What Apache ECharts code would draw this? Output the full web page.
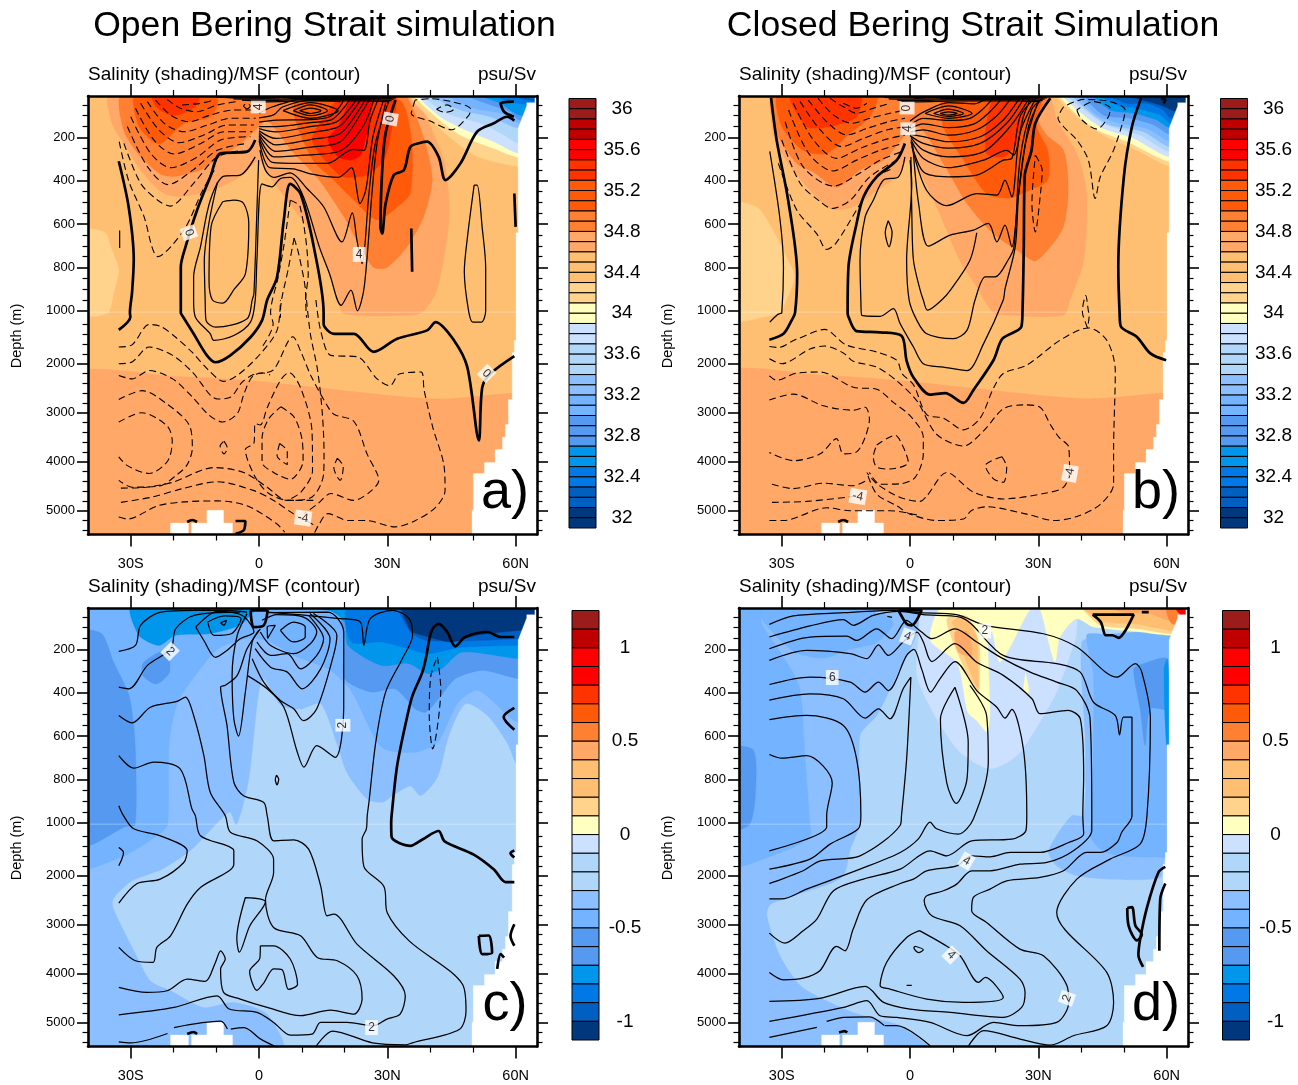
<!DOCTYPE html>
<html><head><meta charset="utf-8">
<style>html,body{margin:0;padding:0;background:#fff}#c{width:1298px;height:1085px}</style>
<script src="https://cdn.jsdelivr.net/npm/echarts@6/dist/echarts.min.js"></script>
</head><body><div id="c"></div>
<script>
// ---------- tick labels and scales ----------
const latMajor=[-30,0,30,60];
const latMinor=[-20,-10,10,20,40,50];
const latNames=['30S','0','30N','60N'];
const depthMajor=[200,400,600,800,1000,2000,3000,4000,5000];
const depthMinor=[50,100,150,250,300,350,450,500,550,650,700,750,850,900,950,1200,1400,1600,1800,2200,2400,2600,2800,3200,3400,3600,3800,4200,4400,4600,4800,5200,5400];
const salinityLabels=[32,32.4,32.8,33.2,33.6,34,34.4,34.8,35.2,35.6,36];
const anomalyLabels=[-1,-0.5,0,0.5,1];
const paletteNames=['#9c1c1c','#c00000','#ff0000','#ff3300','#ff5a0a','#ff7f33','#ffa868','#ffbf73','#ffd38c','#ffffbf','#cce0ff','#b0d6fa','#8cbfff','#73b3ff','#5599f0','#0096eb','#0078e6','#005fc0','#00377d'];
const salinityRuns=[2,2,2,2,3,2,2,3,2,2,2,3,2,2,3,2,2,2,2];
const anomalyRuns=[1,1,2,1,1,1,1,2,1,1,1,2,1,1,2,1,1,1,1];

// ---------- bottom and coast land mask (lat, depth) ----------
const landEast=[[70,0],[64.5,0],[64.5,40],[62.6,40],[62.6,55],[60.6,157],[60.6,640],[60.1,640],[60.1,1524],[59.7,1524],[59.7,1770],[59.2,1770],[59.2,2730],[58.3,2730],[58.3,3240],[57.6,3240],[57.6,3500],[56.9,3500],[56.9,3750],[55.2,3750],[55.2,4015],[52.7,4015],[52.7,4240],[50.1,4240],[50.1,4990],[49.8,4990],[49.8,5600],[70,5600]];
const landBottomA=[[-20.7,5600],[-20.7,5250],[-16.5,5250],[-16.5,5600]];
const landBottomB=[[-15.8,5600],[-15.8,5250],[-12.2,5250],[-12.2,4990],[-8.3,4990],[-8.3,5250],[-6.2,5250],[-6.2,5600]];

// ---------- panel a: salinity bands (value, outline) ----------
const aLevels=[34.7,34.7,34.2,34.9,34.9,35.1,35.1,35.35,35.35,35.55,34.2,34,33.85,33.55,33.3,33.1,32.85,32.6,32.4,32.2,32,32];
const aBands=[
[[-45,2260],[-19.2,2260],[-2.8,2340],[15.9,2510],[41.6,2720],[59.5,2600],[70,2600],[70,5600],[-45,5600]],
[[-34.8,0],[-34.4,135],[-31.6,228],[-27.7,350],[-23,450],[-19.2,474],[-13.7,458],[-9,428],[-4.4,382],[0,305],[1.9,366],[6.5,490],[11.2,612],[15.1,766],[18.2,920],[19.8,1040],[36.2,1060],[38.5,1000],[41.6,905],[44.3,612],[44.3,458],[43.2,305],[39.3,120],[35.4,0]],
[[-45,635],[-36.3,635],[-34.4,720],[-32.8,812],[-34,920],[-35.5,1040],[-45,1040]],
[[-31.9,0],[-31.6,170],[-27.7,290],[-23,370],[-19.7,380],[-13.7,350],[-9,290],[-4.4,230],[0,150],[1.9,120],[8,270],[14,395],[19.8,565],[23.7,705],[26.8,800],[29.9,800],[34.6,705],[38.5,565],[40.5,395],[38.9,228],[36.1,75],[33.7,0]],
[[-31.5,0],[-31,105],[-27.7,260],[-21.4,295],[-15.1,275],[-9.6,210],[-8,105],[-9.6,0]],
[[8,60],[12.4,300],[17.1,390],[22.2,490],[27.6,580],[33,510],[35.4,455],[35.7,220],[32.8,28],[14,0]],
[[-28.9,0],[-28.1,150],[-23.4,230],[-17.5,135],[-11.4,105],[-9.6,30],[-12,0]],
[[14.7,120],[12.4,210],[14.7,290],[19.4,380],[25,375],[29.2,305],[30.8,182],[31.7,0],[20,0]],
[[-25,0],[-24,60],[-20,100],[-15,60],[-14,0]],
[[18.5,150],[16.1,210],[18.5,290],[21.6,305],[24,275],[26.3,28],[22.3,0]],
[[35.4,0],[39.5,105],[44.9,205],[51.1,290],[60.8,335],[70,335],[70,0]],
[[36.6,0],[41.7,112],[47.1,190],[54.1,246],[60.8,293],[70,293],[70,0]],
[[37.4,0],[42.4,105],[48.3,166],[54.9,220],[60.8,274],[70,274],[70,0]],
[[38.5,0],[44,89],[51.8,135],[57.3,189],[60.8,228],[70,228],[70,0]],
[[40.1,0],[47.1,74],[54.1,105],[60.8,159],[70,159],[70,0]],
[[44,0],[50.2,66],[56.5,89],[60.8,135],[70,135],[70,0]],
[[47.9,0],[54.1,50],[58.8,82],[60.8,120],[70,120],[70,0]],
[[51,0],[56.5,43],[60.8,97],[70,97],[70,0]],
[[54.1,0],[58.8,35],[62.7,50],[70,50],[70,0]],
[[58,0],[65,35],[70,35],[70,0]],
[[62,0],[65,15],[70,15],[70,0]],
[[60,0],[62,8],[70,8],[70,0]]
];
const aThick=[
[[-32.8,310],[-30.5,520],[-29.3,765],[-29.7,915],[-30.2,1030],[-30.1,1090],[-32.8,1310]],
[[-0.9,212],[-2.8,266],[-9,274],[-11.4,382],[-14.5,536],[-17.2,705],[-18.3,798],[-18.3,1029],[-18,1065],[-15.3,1390],[-12.2,1830],[-10.2,1970],[-6.7,1830],[-2,1460],[0.7,1140],[1.9,950],[4.2,845],[5.8,580],[7.3,415],[9.7,460],[12.8,705],[15.1,1030],[15.1,1190],[17.5,1390],[22.2,1390],[26.8,1760],[32.3,1490],[39.3,1320],[41.3,1165],[45.6,1525],[48.7,2070],[51.4,3565],[52.2,2480],[54.1,2205],[59.7,1845]],
[[31.9,28],[29.6,180],[28.8,350],[28.4,613],[28.8,644],[29.6,505],[31.5,374],[33.9,350],[35.4,243],[37.8,225],[39.3,220],[42,290],[43.6,397],[47.1,320],[51,174],[54.9,135],[58,105],[59.7,123]],
[[59.6,35],[56.5,43],[57.3,82],[59.6,105]],
[[59.7,459],[60,613]],
[[35.6,620],[35.8,820]],
[[-16.8,5230],[-15.6,5190],[-14.5,5230]],
[[-5.5,5210],[-3.2,5210],[-3.6,5400],[-5.5,5470]]
];
const aThin=[
[[-32.6,630],[-32.6,710]],
[[-0.9,290],[-4.4,374],[-8.2,379],[-11.4,490],[-13.7,705],[-15.3,844],[-15.3,952],[-14.9,1090],[-11.4,1390],[-10.6,1525],[-5.9,1425],[-2,1165],[-0.9,950],[-0.5,767],[0.7,415],[3,428],[5,390],[7.3,385],[10.4,475],[14.1,705],[16.5,830],[19.2,975],[21.5,905],[23,1000],[24.6,890],[26.4,459],[27.6,228],[29.6,43]],
[[-9.7,405],[-11.6,582],[-12.8,767],[-12.6,952],[-12.4,1140],[-10.1,1255],[-2.8,1115],[-1.6,950],[-1.2,920],[-0.5,536],[-0.1,305]],
[[-8.5,497],[-11.2,610],[-11.7,860],[-10.9,950],[-8.5,965],[-5.8,900],[-3.2,830],[-2.4,595],[-3.6,505],[-5.9,490],[-8.5,497]],
[[0.2,259],[1.5,351],[3.4,385],[7.3,364],[11.2,436],[15.1,520],[19.4,682],[21.8,548],[22.9,675],[24.1,782],[25.7,459],[27.2,228],[30.3,35]],
[[0,215],[2.5,340],[8,345],[12.4,370],[18.5,385],[21.6,340],[23.6,505],[25,440],[26.6,200],[29,35]],
[[0,205],[3.1,315],[9.5,320],[16,320],[22,255],[24.5,260],[26,120],[28,18]],
[[0,195],[3.5,290],[10.6,282],[19,262],[24.3,150],[27,18]],
[[0,186],[3.9,265],[11.7,246],[19,220],[24,85],[26,18]],
[[0,178],[3.9,235],[12,210],[19,182],[23.5,70],[25,18]],
[[0,170],[3.9,205],[12,178],[18.7,150],[22.6,60],[24,18]],
[[0,160],[3.9,175],[12,150],[18,130],[21.5,60],[23,18]],
[[0,150],[3.9,150],[12,132],[17,118],[20,60],[21.5,15]],
[[0,130],[4,120],[12,118],[16.5,105],[19,55],[20,15]],
[[0,110],[3.5,95],[5.5,60],[12,28],[19,35]],
[[0,90],[3,60],[12,15],[18,18]],
[[5.6,77],[12,40],[18.5,77],[12,112],[5.6,77]],
[[8,77],[12,50],[16,77],[12,100],[8,77]],
[[9.5,77],[12,65],[14.5,77],[12,90],[9.5,77]],
[[0,20],[12,12],[24,12],[31,20]],
[[0,14],[12,10],[24,10],[32,14]],
[[-10,14],[0,18],[6,14]],
[[-8,16],[0,18],[12,14],[24,14],[32,18]],
[[-6,22],[0,24],[12,20],[24,20],[31.5,24]],
[[-4,28],[0,30],[12,26],[24,26],[31,30]],
[[-2,35],[1,36],[12,32],[24,32],[30.5,36]],
[[50.3,420],[48.8,650],[48,820],[49,1000],[50,1165],[52,1165],[53,1000],[53,800],[52.2,620],[51,420],[50.3,420]]
];
const aDash=[
[[-32.7,220],[-30.5,400],[-27,560],[-23.6,750],[-17.5,625],[-13.2,445],[-10,335]],
[[-31.6,228],[-27.7,412],[-23.7,490],[-20.8,517],[-15.3,412],[-9.8,290],[-3.9,260]],
[[-30.8,150],[-26.1,335],[-21.3,418],[-15.4,350],[-9.8,260],[-2.8,228]],
[[-30,105],[-25.3,275],[-20.6,340],[-14.4,290],[-9,212],[-2,197]],
[[-28.9,66],[-24.6,212],[-19.9,277],[-13.6,228],[-8.2,174],[-1.6,174]],
[[-27.7,43],[-23.4,166],[-18.7,225],[-13.0,190],[-7.4,143],[-1.2,143]],
[[-26.1,35],[-22.2,135],[-17.5,174],[-12.0,143],[-6.7,112],[-0.8,112]],
[[-24.2,28],[-20.7,97],[-16.4,128],[-11.4,97],[-5.9,74],[-0.5,74]],
[[-21.5,25],[-18.4,66],[-14.5,82],[-9.8,51],[-5.1,35]],
[[-18,51],[-13.7,43],[-10.5,28]],
[[-2.8,70],[-3.6,55],[-3,45],[-2,55],[-2.8,70]],
[[36.5,28],[35.6,90],[40,125],[45,165],[49,100],[49.5,70],[45,35],[40,22],[36.5,28]],
[[41.5,70],[43.5,85],[45.5,70],[44,50],[41.5,70]],
[[-32.8,1660],[-29.7,1615],[-25.7,1200],[-23,1240],[-19.5,1460],[-15.6,1770],[-12,2115],[-8.3,2360],[-4.8,2220],[0.3,1800],[4.2,1320],[5,950]],
[[-32.8,2000],[-29.7,1965],[-25.7,1660],[-20.2,1830],[-15.6,2170],[-9.7,2720],[-6.6,2680],[-4,2380],[-1.3,2220],[1,2190],[2.6,2230]],
[[-32.8,2240],[-29.7,2310],[-25.7,2140],[-20.2,2310],[-15.6,2680],[-11.7,3050],[-8.5,3190],[-5.1,3020],[-3.5,2610],[-1.3,2240],[3.3,2130],[7.9,1450],[9.8,1760],[12.1,2240],[15.9,2850],[17.5,3030],[22.2,3180],[25.3,3850],[27.6,4240],[28,4380],[26,4610],[22.2,4790],[16.8,4650],[13.7,4860],[10.6,5060]],
[[-32.8,2730],[-27.3,2550],[-21.4,2830],[-16.4,3240],[-15.6,3720],[-16.8,4060],[-19.1,4260],[-23.4,4500],[-29.7,4520],[-32.8,4380]],
[[-32.8,3190],[-27.4,3000],[-21.5,3270],[-20.3,3580],[-21.4,3990],[-25.7,4240],[-30.8,4080],[-32.8,3900]],
[[-8.2,3580],[-7.4,3720],[-8.2,3840],[-9.1,3680],[-8.2,3580]],
[[-32.3,4540],[-26.4,4520],[-20.2,4420],[-10.5,4120],[-3.6,4220],[1.9,4520],[6.5,4790],[12.7,4790]],
[[-32.3,4830],[-24.9,4720],[-17.9,4550],[-9.8,4410],[-1.2,4590],[3.4,4790],[8,5060],[13.7,5330]],
[[-32.8,5130],[-30.8,5170],[-23.7,4900],[-17.5,4820],[-9.8,4800],[-2.8,4900],[4.2,5270],[6,5440]],
[[13.3,950],[14.4,1320],[16.8,1830],[23,1860],[27.6,2310],[30.6,2450],[32.8,2210],[37.9,2170],[38.6,2540],[40.6,3290],[43.3,4110],[43.5,4590],[41.3,4930],[36.6,5200],[31.9,5330],[24.9,5200],[20.9,5200],[16.1,5060],[13.7,5330],[12.9,5470]],
[[11.1,950],[12,1390],[13.7,2140],[14.8,3020],[15.2,3840],[15.1,4250],[12.4,4720],[7,4790],[2.3,4650],[-0.9,4310],[-3.2,3750],[-1.2,3620],[-0.9,3220],[0.3,3250],[1.9,2900],[5,2340],[7,2180],[9.8,2510],[12.4,3400],[12.5,4180],[9.8,4620],[6.6,4790]],
[[5.1,2880],[8.2,3090],[10.1,3570],[10.3,3980],[7.3,4360],[3.4,4220],[0.7,4010],[0.7,3520],[2.3,3120],[5.1,2880]],
[[4.8,3630],[6.6,3790],[6.6,4060],[4.2,3880],[4.8,3630]],
[[18.3,3930],[19.7,4100],[19,4380],[17.5,4130],[18.3,3930]],
[[7.3,490],[9.6,520],[11.5,830],[10.9,950],[11.1,1100]],
[[8.2,665],[9.3,740],[10.9,930],[10.9,950]],
[[7.3,490],[5.8,700],[4.4,850],[2.7,1030],[3.3,1190],[0.7,1660]],
[[8.2,665],[6.9,800],[5,1020],[5,1100]]
];
const aLabels=[['0',-16.4,640,-70],['4',-0.2,60,90],['0',30.7,115,80],['4',23.4,740,0],['0',53.2,2200,-45],['-4',10.3,5150,-8]];

// ---------- panel b ----------
const bLevels=[34.7,34.2,34.7,34.9,35.1,35.35,35.1,35.35,34.2,34,33.85,33.55,33.3,33.1,32.85,32.6,32.4,32.2,32];
const bBands=[
[[-45,2240],[-19.5,2240],[-3,2340],[15.6,2510],[41.3,2715],[59.2,2600],[70,2600],[70,5600],[-45,5600]],
[[-45,505],[-36,520],[-32,630],[-29,750],[-27,840],[-28.9,950],[-30.4,1030],[-32,1065],[-45,1140]],
[[-32.8,0],[-32.8,15],[-31.9,195],[-28,335],[-23.4,443],[-18.7,530],[-13.3,520],[-7.8,445],[-3.1,382],[-0.8,305],[0.8,305],[6.2,520],[11.7,770],[15.6,890],[19.5,1030],[22.6,1065],[35.9,1065],[37.4,950],[40.6,770],[41.3,460],[39,275],[34.3,120],[32,0]],
[[-31.9,0],[-31.1,182],[-26.5,320],[-22.6,360],[-17.2,430],[-11.7,350],[-6.2,305],[1.6,150],[7.8,320],[13.3,505],[19.5,645],[25.7,730],[29.3,770],[32.8,705],[35.9,610],[37,440],[35.9,260],[32,190],[30,120],[32.2,0]],
[[-30.8,0],[-30,150],[-25,260],[-19.5,275],[-14,180],[-9.4,105],[-7.8,0]],
[[-28,0],[-24.2,150],[-18.7,150],[-12.5,105],[-11.7,0]],
[[7.8,150],[12.5,305],[17.9,460],[23.4,480],[28,443],[32.2,397],[32.2,260],[29.6,150],[30.4,0],[7.8,0]],
[[17.9,135],[17.9,275],[21.8,290],[25,228],[26.5,120],[27.3,0],[20,0]],
[[34.3,0],[39,105],[45.2,190],[53,259],[61,335],[70,335],[70,0]],
[[35.1,0],[39.1,97],[43.7,166],[50.8,220],[60.6,312],[70,312],[70,0]],
[[35.9,0],[40.6,97],[45.2,159],[52.3,205],[60.6,290],[70,290],[70,0]],
[[37,0],[41.3,82],[46,143],[53.8,190],[60.6,266],[70,266],[70,0]],
[[38.2,0],[42.9,97],[46.8,143],[54.6,174],[60.6,243],[70,243],[70,0]],
[[39.8,0],[43.7,97],[49.1,135],[55.4,159],[61,220],[70,220],[70,0]],
[[41,0],[45.2,97],[51.5,112],[57,143],[61,189],[70,189],[70,0]],
[[43,0],[46.8,74],[52.3,89],[57.7,120],[61,159],[70,159],[70,0]],
[[44.5,0],[48.4,51],[53,66],[58.5,97],[61,135],[70,135],[70,0]],
[[46,0],[50.7,43],[55.4,43],[59.2,74],[61,112],[70,112],[70,0]],
[[48.4,0],[53.8,25],[58.5,51],[62.4,82],[70,82],[70,0]]
];
const bThick=[
[[-32.5,17],[-31.2,212],[-28.5,490],[-26.4,830],[-26.9,1030],[-27.7,1140],[-29.6,1390],[-32.9,1510]],
[[-1.2,228],[-3.1,305],[-7.8,382],[-10.9,475],[-12.5,597],[-14.4,798],[-14.6,1030],[-14.4,1090],[-12.5,1335],[-7.0,1360],[-2,1430],[-0.8,1940],[0.8,2280],[4.7,2630],[8.2,2600],[12.5,2800],[14.8,2540],[19.5,1930],[21.6,1490],[26,1250],[26.3,1000],[26.6,700],[26.8,380],[28.4,260],[29.3,135],[32.8,20]],
[[54,20],[51.9,150],[50,382],[48.7,798],[49,1030],[49.3,1240],[53,1450],[56.2,1790],[59.9,1930]],
[[58.7,20],[59.7,28],[59.3,43]],
[[-16.8,5230],[-15.6,5190],[-14.5,5230]]
];
const bThin=[
[[-32.8,265],[-30.4,580],[-29.6,800],[-30,1030],[-30.4,1040],[-31.1,1060],[-32.8,1165]],
[[-1.2,290],[-2.7,382],[-6.2,397],[-8.6,490],[-10.5,567],[-11.7,767],[-11.5,952],[-11.3,1065],[-7,1080],[-3.9,990],[-2.3,1190],[0.8,1660],[3.1,2000],[7.8,2070],[13.3,2140],[17.2,1590],[21.8,950],[22.2,900],[24.6,705],[25.4,459],[27,228],[30,30]],
[[0,305],[0.4,413],[-0.8,767],[-0.2,952],[1.6,1140],[3.9,1390],[10.1,1490],[13.3,1320],[15.2,950],[17.6,844],[19.9,844],[22.9,767],[24.3,705],[25.7,305],[28.4,74],[31,20]],
[[0.2,290],[0.4,536],[0.8,767],[2.3,900],[3.1,950],[4.1,997],[7.4,950],[9.4,906],[14,767],[15.6,640]],
[[0.6,228],[2,505],[4.3,702],[9.4,651],[14.8,628],[18.3,597],[20.3,682],[22.2,605],[23.8,705],[25.4,459],[27.7,151],[30.4,25]],
[[0.4,240],[3.9,445],[8.6,515],[15.6,460],[20.3,466],[22.2,397],[23.8,475],[25.7,182],[29.3,25]],
[[0.2,220],[3.1,359],[9,382],[15.6,374],[21.8,305],[23.8,297],[25.7,105],[28.9,25]],
[[0.2,210],[3.1,297],[9,340],[17.2,305],[22.6,260],[24.2,282],[26.5,105],[28.1,25]],
[[0.2,200],[3.1,259],[9,290],[17.2,266],[23.4,150],[27.7,25]],
[[0,192],[3.1,228],[9,250],[16.4,228],[22.6,135],[26.5,25]],
[[0,185],[3.1,197],[9,220],[16.4,197],[21.8,120],[25.4,25]],
[[0,175],[3.1,165],[9,190],[15.6,165],[20.3,100],[23.4,25]],
[[0,160],[3.1,138],[9,155],[15,138],[18.5,85],[21.5,20]],
[[0,145],[3,112],[9,122],[14,112],[17,70],[19.5,18]],
[[0,125],[3,85],[9,40],[15,45],[18,18]],
[[3.5,90],[9,55],[14.5,90],[9,112],[3.5,90]],
[[5.5,90],[9,70],[12.5,90],[9,104],[5.5,90]],
[[7,90],[9,82],[11,90],[9,97],[7,90]],
[[1,20],[12,12],[22,14],[30,18]],
[[1,14],[14,10],[30,12]],
[[-6,16],[0,18],[12,14],[24,14],[32,18]],
[[-5,22],[0,24],[12,20],[24,20],[31.5,24]],
[[-3,28],[0,30],[12,26],[24,26],[31,30]],
[[-2,35],[1,36],[12,32],[24,32],[30.5,36]],
[[-5.1,585],[-4.2,640],[-4.9,705],[-5.8,640],[-5.1,585]]
];
const bDash=[
[[-30.8,320],[-26.5,535],[-21.8,645],[-19.5,717],[-17.4,690],[-12.5,535],[-7.8,382],[-3.9,343]],
[[-30,212],[-25.7,412],[-21,497],[-18.3,528],[-14,490],[-9.4,382],[-3.1,305]],
[[-29.2,128],[-25,336],[-17.9,425],[-12.5,374],[-7,305],[-1.9,266]],
[[-28.4,74],[-23.7,274],[-18,355],[-12.5,305],[-7,259],[-1.6,228]],
[[-27.3,43],[-22.6,212],[-17.2,297],[-11.7,251],[-6.2,212],[-1.2,189]],
[[-25.7,35],[-21,166],[-16,243],[-10.9,205],[-5.5,166],[-1.2,151]],
[[-23.8,28],[-19.5,128],[-14.8,189],[-10.1,159],[-5.1,128],[-1.2,112]],
[[-21.5,20],[-17.9,97],[-13.6,135],[-9.4,112],[-4.7,89],[-1.2,74]],
[[-18.7,20],[-15.6,59],[-12.5,89],[-8.6,66],[-4.7,43]],
[[-15.6,43],[-12.5,66],[-10.1,43]],
[[35.9,59],[34.6,112],[35.9,151],[39,212],[41.7,305],[43.3,482],[44.5,382],[47.6,259],[49.9,120],[50.3,74],[46.8,35],[40.6,25],[35.9,59]],
[[39,74],[40.2,120],[43.7,162],[46.4,105],[46.8,66],[42.9,35],[39,74]],
[[29.3,282],[30.9,351],[30.5,459],[29.3,636],[28.5,505],[29.3,282]],
[[-32.9,1650],[-30.8,1670],[-26.9,1510],[-26.5,1500],[-20,1300],[-15,1615],[-7.8,1760],[-3.1,1930],[-1.9,2200],[0.8,2430],[3.9,3040],[7.8,3110],[12.5,3350],[16.4,3110],[19.5,2500],[21.8,2200],[27.3,2030],[35.1,1520],[41.7,1270],[46,1520],[48,2150],[47.6,3780],[47.6,4460],[44.5,4870],[39,5120],[33.7,5200],[27.3,5070],[17.9,4920],[14.3,5000],[12.5,5170],[6.2,5200],[0,5070],[-3.1,4900],[-7.8,4660],[-10.1,4220]],
[[-32.9,1900],[-30,2000],[-23.4,1700],[-20,1640],[-15.6,1780],[-13.3,1950],[-7.8,2070],[-3.1,2350],[1.6,2760],[6.2,3440],[12.5,3680],[17.2,3370],[21.8,2920],[26.5,2840],[30.4,2890],[32.8,3240],[34.8,3500],[37.1,3700],[37.3,4180],[35.9,4520],[31.2,4650],[21.8,4760],[14.8,4620],[8.6,4220],[3.9,4700],[2.3,4810],[-2.3,4730],[-7.8,4450],[-10.1,4220]],
[[-32.9,2250],[-31.2,2340],[-26.9,2200],[-21,2170],[-13.3,2480],[-7.8,2520],[-3.9,2790],[0,3060],[3.1,3500],[3.1,3840],[1.2,4320],[-2.3,4450],[-7,4460],[-9.5,4220]],
[[-32.9,2740],[-27.3,2620],[-20.3,2860],[-13.3,2950],[-10.5,2890],[-9.5,3130],[-10.5,3500],[-12.5,3800],[-15.6,3840],[-17.2,3530],[-21,3840],[-27.3,3980],[-32.9,3810]],
[[-7.8,3660],[-3.5,3460],[-1.6,3700],[-0.4,4010],[-4.7,4150],[-7.8,4110],[-8.6,3900],[-7.8,3660]],
[[21.5,3900],[22.6,4110],[21.8,4420],[19.5,4350],[17.6,4080],[21.5,3900]],
[[-32.3,4460],[-27.3,4550],[-20.3,4440],[-13.3,4490],[-10.1,4380]],
[[-32.3,4830],[-24.2,4810],[-13.3,4710]],
[[-32.9,5200],[-29.6,5200],[-19.5,4940],[-14,5000],[-4.7,5000],[2.3,5100]],
[[41.5,1270],[40.4,1060],[40.3,1000],[41.1,930],[41.7,1000],[41.9,1060],[41.5,1270]]
];
const bLabels=[['0',-0.7,65,90],['4',-0.5,160,90],['-4',-12.2,4710,-10],['-4',37.4,4240,80]];

// ---------- panel c ----------
const cLevels=[-0.35,-0.45,-0.55,-0.55,-0.55,-0.75,-0.85,-0.95,-1.05];
const cBands=[
[[-45,0],[-45,5600],[5.5,5600],[1.9,4830],[-5.9,4590],[-13,4690],[-20.7,4350],[-25.4,4150],[-29.1,3560],[-34.1,2670],[-34.1,2470],[-29.8,2110],[-22.7,1870],[-15.7,1460],[-6.9,950],[-5.3,1030],[-2.5,810],[-0.1,400],[1.1,335],[5,455],[9.7,475],[14.4,450],[18.3,640],[20.6,770],[25.3,890],[28.9,905],[31.6,870],[35.4,830],[37.8,875],[41.7,790],[44.4,597],[48.3,451],[53.4,505],[58,630],[61.1,752],[70,752],[70,0]],
[[-45,1860],[-32.4,1630],[-23.9,1190],[-21.4,1030],[-21,628],[-19,444],[-14.3,305],[-9.6,197],[-2.8,151],[1.9,159],[8.1,228],[16.1,290],[21.5,390],[28.6,650],[36.5,675],[41.7,630],[46.6,445],[51.3,390],[60.4,536],[70,536],[70,0],[-45,0]],
[[-45,125],[-37,125],[-34,260],[-30.4,414],[-29,628],[-29,1030],[-31.5,1060],[-39.5,1380],[-45,1380]],
[[-27.2,320],[-24,360],[-20.9,305],[-21.7,205],[-27,260]],
[[20,166],[20,335],[26.3,397],[31.8,382],[36.5,474],[38.9,490],[42,428],[45.9,335],[52.2,297],[60.8,335],[70,335],[70,0],[20,0]],
[[-29.7,0],[-28.1,135],[-23.4,182],[-19.5,135],[-11.7,128],[-4.4,89],[-0.5,20],[16.1,20],[20,74],[20.8,182],[28.6,274],[34.9,265],[39.6,312],[42.7,290],[47.4,213],[60.8,243],[70,243],[70,0]],
[[21,0],[21.5,166],[28.6,166],[34.9,197],[39.6,220],[47.4,190],[60.8,182],[70,182],[70,0]],
[[33,0],[35.4,120],[39.3,159],[51,159],[61.1,151],[70,151],[70,0]],
[[33,0],[33.2,12],[35.4,112],[39.6,143],[45,166],[51,135],[61.1,112],[70,100],[70,0]]
];
const cThick=[
[[39.3,212],[38.2,305],[35.9,412],[34.7,505],[32.3,736],[31,966],[30.9,1000],[31,1210],[35.4,1390],[38.2,1260],[42,1120],[43.4,1300],[50.2,1570],[55,1880],[57.6,2130],[59.7,2130]],
[[39.3,212],[40.4,112],[42,82],[44,120],[45.9,186],[48.2,143],[53.4,120],[56.5,143],[59.7,143]],
[[59.7,470],[57.2,512],[59.7,571]],
[[59.7,1485],[58.8,1540],[59.7,1630]],
[[51.4,3230],[53.7,3220],[54.5,3570],[52.2,3600],[51.4,3230]],
[[59.7,2990],[58.8,3230],[59.7,3430]],
[[55.7,3900],[56.5,3600],[57.3,3670]],
[[-2,20],[2,20],[1.1,89],[-1.2,97],[-2,20]],
[[-16.8,5230],[-15.3,5190],[-14.5,5230]]
];
const cThin=[
[[-32.8,209],[-28.9,182],[-27.7,89],[-23,28],[-15.2,20],[-7.4,20],[-2.8,28]],
[[1.9,28],[19,58],[23.7,74],[24.5,182],[26,58],[31.3,20],[35.1,58],[35.9,135],[33.5,243],[29.6,397],[27.3,628],[25.7,905],[25.3,967],[25.1,1087],[24.1,1254],[24.5,1810],[29.2,2220],[30,2760],[35.1,3330],[47.6,4220],[48.4,4760],[46.8,5140],[35.9,5410],[34.3,5450],[26.5,5410],[17.2,5170],[13.2,5500]],
[[-32.8,374],[-30.4,382],[-26.1,274],[-20.6,197],[-19.5,105],[-15.2,43],[-4.4,28]],
[[-32.8,505],[-29.7,539],[-25.4,467],[-19.2,440],[-17.2,420],[-15.3,505],[-12.9,690],[-11.4,860],[-7.9,967],[-6.7,1138],[-0.5,1288],[3.4,1662],[3.4,1934],[1.5,2492],[3.4,3056],[9.7,3226],[13.6,3668],[18.3,3736],[22.9,4042],[24.1,4518],[22.2,4824],[16.7,4743],[9.7,4858],[1.9,4688],[-4.4,4518],[-8.3,4382],[-9,3906],[-7.9,3702],[-9,3532],[-10.2,3770],[-12.6,4158],[-16.8,4110],[-21.5,4348],[-26.2,4382],[-32.8,4280]],
[[-32.8,690],[-29.3,748],[-24.6,720],[-18.4,752],[-15.7,936],[-14.9,967],[-13.7,1188],[-5.9,1492],[-5.9,1764],[-13.7,2240],[-16.8,2580],[-20.7,3226],[-23.9,3464],[-24.8,3770],[-28.9,3736],[-32.8,3464]],
[[-32.8,921],[-31.7,967],[-29.3,1087],[-23.1,1190],[-16.8,1492],[-17.6,1730],[-23.1,2070],[-28.5,2160],[-32.8,2560]],
[[0.3,105],[-2.8,197],[-5.1,320],[-7.9,366],[-9,374],[-7.5,551],[-5.9,813],[-3.6,875],[1.1,906],[1.9,967],[3.4,1288],[8.1,1268],[11.6,1458],[14.4,2206],[15.9,2818],[17.5,2784],[22.9,3396],[31.5,4042],[34.2,4450],[33,4824],[29.9,4926],[26.8,5062],[20.6,4994],[14.4,4994],[12.4,5232],[7.3,5253],[3.4,4994],[-0.5,4790],[-7,4720],[-9.8,4450],[-19.9,4688],[-32.8,4838]],
[[-3.2,2445],[1.5,2530],[-2.2,3030],[-4.6,3560],[-5.2,3280],[-3.2,2445]],
[[0.3,3430],[3.4,3430],[7.3,3700],[9,4220],[6.9,4320],[5.4,3920],[3.4,3900],[1.1,4190],[-0.5,4340],[-2.2,3950],[0.2,3680],[0.3,3430]],
[[-32.8,1424],[-31.7,1526],[-32.8,1798]],
[[-32.8,5390],[-30,5410],[-21.4,5220]],
[[-19.9,5100],[-9,4970],[-7.4,5130]],
[[-6.6,5130],[-3.5,5100],[0.3,5330],[5.8,5570]],
[[-0.1,112],[-1.6,166],[-3.2,397],[-4.8,600],[-5.9,520],[-6.3,320],[-5.1,135],[-2.8,35]],
[[-14.8,97],[-12.9,159],[-10.2,237],[-7.5,205],[-4.4,151],[-1.2,120],[-4,43],[-9.8,25],[-14.8,97]],
[[-12,74],[-10.5,136],[-6.5,128],[-4.2,59],[-8.1,46],[-12,74]],
[[-9,77],[-7.6,66],[-8.2,89],[-9,77]],
[[5,112],[8.1,166],[10.8,143],[10.8,97],[8.1,74],[5,112]],
[[2,150],[1.9,97],[3.8,89],[2,150]],
[[0.3,120],[2.7,182],[8.1,220],[12,174],[13.5,120],[10.4,51],[4.2,40],[0.7,66]],
[[-0.5,166],[2.7,228],[6.6,220],[9.7,290],[13.5,228],[15.1,151],[11.6,43]],
[[-0.9,197],[2.7,282],[6.6,305],[10.1,382],[14.4,290],[16.6,151],[11.9,35]],
[[-1.6,243],[1.1,351],[5,436],[8.1,474],[10.4,529],[13.5,474],[17.4,228],[18.2,135],[12.7,35]],
[[-2.8,320],[1.9,382],[5.8,467],[8.9,671],[10.5,743],[13.5,644],[17.8,698],[19.8,474],[19.8,120],[16.1,28],[1.9,31]],
[[4.1,780],[4.6,800],[4.2,825],[3.8,800],[4.1,780]]
];
const cDash=[
[[41.7,235],[42.5,382],[40.6,659],[39.8,505],[40.2,320],[41.7,235]]
];
const cLabels=[['2',-20.8,210,-45],['2',19.6,550,90],['2',26.3,5100,0]];

// ---------- panel d ----------
const dLevels=[-0.35,-0.45,-0.55,-0.35,-0.45,-0.05,-0.35,-0.45,-0.55,-0.75,0.05,0.05,0.15,0.25,0.45,0.15,0.25,0.25,0.45,0.55,0.95];
const dBands=[
[[5,5600],[-2.5,5060],[-7.8,4930],[-13.3,4790],[-20.3,4520],[-25.7,4240],[-30.4,3640],[-33.5,2810],[-32.7,2590],[-28,2430],[-15.9,2030],[-14,1470],[-11.7,1000],[-11.7,597],[-7.8,505],[-3.1,320],[0,200],[1.6,120],[1.6,20],[-45,20],[-45,5600]],
[[-45,0],[-45,1800],[-28.6,1470],[-23.4,1200],[-23.4,1030],[-24.6,690],[-25.9,370],[-30.4,212],[-34.7,80],[-34.7,0]],
[[-45,660],[-36.9,660],[-36,800],[-37.6,1030],[-45,1100]],
[[-34.7,0],[-30.4,120],[-23.4,290],[-16,354],[-11,460],[-6.2,410],[-3,254],[0,120],[1,0]],
[[-34.7,20],[-34,80],[-27,212],[-20,240],[-14,200],[-8,170],[-3.9,80],[-8,20]],
[[-7.8,30],[1.6,30],[1.6,320],[6.2,520],[11.7,675],[18.7,752],[25,690],[30.4,536],[34.3,397],[37.4,228],[38.9,135],[38.2,20]],
[[40.2,166],[41,628],[40.6,967],[37.8,967],[33.5,1288],[32.4,1526],[34.3,1798],[39,2002],[46.8,2070],[58.5,2036],[59.7,1662],[70,1662],[70,150],[45,150]],
[[41.3,135],[42.9,320],[42.5,967],[42.1,1190],[44.5,1458],[49.1,1594],[60,1628],[70,1628],[70,150],[45,130]],
[[52.3,290],[53.8,474],[55,644],[56.2,474],[60.8,474],[60,243],[54.6,266]],
[[59.4,290],[60.2,243],[61.2,644],[60,644]],
[[4.7,158],[11,262],[13.5,490],[15.5,527],[18,580],[18.7,490],[18.2,120],[19.2,120],[20.9,259],[23.4,190],[28,20],[30.4,20],[32,135],[33.9,259],[35.1,143],[38.9,59],[42.9,97],[53.8,120],[60.8,135],[70,120],[70,0],[8,0]],
[[27,305],[27.8,397],[26.6,397],[27,305]],
[[8.6,59],[11.7,243],[15.9,405],[16.2,366],[16.2,182],[13.5,50]],
[[9.8,74],[11,120],[13,251],[16,382],[15.9,290],[15.6,143],[12.5,50]],
[[10.5,120],[11.3,212],[14.4,228],[13.5,120]],
[[40.6,20],[44.5,89],[53,105],[60.8,128],[70,128],[70,0],[40,0]],
[[41,20],[45,70],[53.5,85],[60.8,112],[70,112],[70,0],[41,0]],
[[41.7,20],[44.5,59],[54.6,74],[60.8,97],[70,97],[70,0],[41.7,0]],
[[47,10],[50,30],[56,35],[61,70],[70,70],[70,0],[47,0]],
[[60.1,0],[61.3,82],[70,82],[70,0]],
[[61.9,0],[64,50],[70,50],[70,0]]
];
const dThick=[
[[-2.7,20],[-0.8,82],[0.4,89],[2.7,20],[-2.7,20]],
[[42.7,40],[52.3,40],[50.4,112],[48.8,147],[47.3,135],[45.8,135],[44.6,74],[42.7,40]],
[[54.2,28],[55.8,28]],
[[59.7,1820],[58.1,1930],[55.4,2650],[53.8,3300],[53.4,3620],[54.5,3860]],
[[59.7,2160],[58.5,2480],[58.3,3530]],
[[50.8,2660],[51.9,2640],[52.7,3020],[54.2,3200],[53.1,3320],[51.1,3020],[50.8,2660]],
[[-16.6,5200],[-15.3,5170],[-14.7,5200]]
];
const dThin=[
[[-32.9,85],[-27.3,46],[-15.6,31],[-3.9,20],[2.3,31],[10.9,40],[17.6,89],[31.2,128],[39,189],[48.4,328],[52.7,266],[54.2,305],[56.2,520],[55.4,967],[53.8,1356],[46.8,1662],[39,2070],[34.3,2750],[46,3974],[47.6,4586],[46,5062],[38.2,5266],[32.8,5457],[25.7,5334],[17.2,5164],[13.7,5470]],
[[-32.9,143],[-23.4,92],[-15.6,63],[-13.3,89],[-8.6,43],[-2.3,25],[3.1,40],[11.7,51],[21.8,228],[34.3,266],[39.8,305],[42.9,444],[48,505],[49,594],[49.9,513],[51.9,513],[51.9,967],[49.5,1138],[48.4,1322],[44.5,1526],[41.3,1526],[35.9,1900],[30.4,2036],[22.6,2104],[18.7,2274],[14.8,2444],[14.4,2716],[17.9,2954],[25.7,3498],[31.2,3634],[36.7,4246],[37.1,4586],[34.3,4994],[25.7,5062],[19.5,4994],[13.3,5266],[4.7,4994],[-3.1,4892],[-7,4858],[-10.1,4552],[-15.6,4688],[-32.9,4974]],
[[-32.9,197],[-23.4,143],[-14.8,139],[-12.5,159],[-7.8,105],[-4.3,151],[-0.8,66],[0.8,89],[2.7,120],[5.1,151],[10.5,105],[15.6,166],[21.1,236],[28.1,305],[34.3,351],[39,390],[42.1,520],[42.5,967],[42.5,1112],[38.2,1492],[32,1730],[25.7,1764],[18.7,1900],[14.4,1900],[10.9,2172],[7.8,2308],[3.9,2410],[3.3,2512],[5.1,2818],[11.7,3022],[17.9,3532],[25.7,4110],[26.9,4382],[26.1,4688],[21.8,4892],[9.4,4790],[0,4722],[-6.2,4586],[-10.5,4260],[-21.1,4505],[-32.9,4566]],
[[-32.9,251],[-24.2,205],[-14,220],[-10.1,243],[-7.4,179],[-5.1,228],[-1.6,166],[1.6,120],[3.1,166],[5.1,256],[10.5,174],[15.6,259],[21.8,320],[28.5,428],[30.4,497],[37,482],[39.8,520],[40.6,782],[40.4,967],[40.6,1163],[37.1,1322],[30.4,1526],[23.4,1526],[18.7,1615],[14.4,1594],[10.9,1798],[3.9,1900],[0.8,2070],[-2.3,2159],[-10.1,2492],[-13.3,3090],[-15.2,3532],[-17.2,3444],[-21.1,3940],[-25,4090],[-29.6,4124],[-32.9,3974]],
[[-32.9,362],[-23.4,328],[-14,351],[-10.5,397],[-7.4,351],[-5.1,390],[-0.8,228],[0.9,200],[2.7,290],[4.8,397],[7,336],[10.5,256],[15.6,390],[20.3,467],[22.2,517],[23.8,477],[26.5,659],[27.3,967],[27.1,1112],[23.8,1254],[14.4,1288],[8.6,1594],[4.7,1492],[-2.3,1866],[-10.9,2070],[-17.9,2308],[-21.8,2886],[-25,3124],[-29.3,3376],[-32.9,3172]],
[[-32.9,434],[-23.4,405],[-15.6,428],[-10.5,517],[-7.4,474],[-4.7,520],[-1.6,382],[0.2,328],[-0.8,705],[-2,967],[-2.3,1036],[-11.7,1594],[-21,1696],[-25,1900],[-32.9,2159]],
[[-32.9,524],[-24.2,505],[-15.6,551],[-12.5,705],[-11.5,967],[-12.1,1087],[-18.7,1356],[-23.4,1662],[-32.9,1866]],
[[-32.9,685],[-30,702],[-24.2,690],[-18.2,816],[-19.5,967],[-19.5,1061],[-32.9,1492]],
[[-32.9,2474],[-30,2474],[-24.2,2274],[-11.7,1866],[-2.3,1526],[1.9,1254],[4.7,997],[6.2,1087],[11.3,1164],[14.8,982],[18.3,720],[17.9,505],[14,366]],
[[2.2,3120],[7.8,3396],[11.7,3634],[16,4178],[17.6,4076],[21.8,4484],[12.5,4586],[3.9,4518],[-4.7,4314],[-7,4246],[-5.5,3770],[-0.8,3260],[2.2,3120]],
[[10.5,375],[7.1,522],[8.6,817],[10.8,910],[13.3,800],[13.6,628],[10.5,375]],
[[1.2,3440],[3.1,3510],[2,3570],[0.9,3470],[1.2,3440]],
[[-0.8,4240],[0.4,4240]],
[[-5.3,48],[-4.2,52]],
[[-32.9,5300],[-21.8,5096]],
[[-19.5,4974],[-15.6,4892],[-9.5,4880],[-6,5060]],
[[-5.9,5062],[-3.1,5062],[4.7,5470]]
];
const dDash=[];
const dLabels=[['4',-0.6,140,-20],['6',-18.2,330,0],['2',17.5,115,0],['4',13.2,1700,-30],['4',9.6,3620,-45],['2',36.7,4500,70]];

// ---------- figure texts ----------
const panelTitle=['Open Bering Strait simulation','Closed Bering Strait Simulation'];
const leftText='Salinity (shading)/MSF (contour)';
const rightText='psu/Sv';
const depthName='Depth (m)';
const panelLetters=['a)','b)','c)','d)'];

// ---------- build ----------
// Depth axis is piecewise: 0-1000 m, a short 1000-1200 m link, then 1200 m and deeper.
function st(d){return d<=1000?d*0.2168:d<=1200?216.8+(d-1000)*0.0685:230.5+(d-1200)*0.049;}
function boxColours(runs,names){const o=[];runs.forEach((n,k)=>{for(let j=0;j<n;j++)o.push(names[k]);});return o;}
const salinityBoxes=boxColours(salinityRuns,paletteNames);
const anomalyBoxes=boxColours(anomalyRuns,paletteNames);
function colourOfSalinity(v){const i=Math.floor((36.1-v)/0.1+1e-6);return salinityBoxes[Math.max(0,Math.min(41,i))];}
function colourOfAnomaly(v){const i=Math.floor((1.2-v)/0.1+1e-6);return anomalyBoxes[Math.max(0,Math.min(22,i))];}

const panels=[
 {bands:aBands,levels:aLevels,thick:aThick,thin:aThin,dash:aDash,labels:aLabels,col:colourOfSalinity,base:34.5,left:88,top:96,bar:569,barTop:98.5,low:31.9,high:36.1,ticks:salinityLabels,step:0.1},
 {bands:bBands,levels:bLevels,thick:bThick,thin:bThin,dash:bDash,labels:bLabels,col:colourOfSalinity,base:34.5,left:739,top:96,bar:1220.5,barTop:98.5,low:31.9,high:36.1,ticks:salinityLabels,step:0.1},
 {bands:cBands,levels:cLevels,thick:cThick,thin:cThin,dash:cDash,labels:cLabels,col:colourOfAnomaly,base:-0.15,left:88,top:608,bar:572,barTop:610.5,low:-1.1,high:1.2,ticks:anomalyLabels,step:0.1},
 {bands:dBands,levels:dLevels,thick:dThick,thin:dThin,dash:dDash,labels:dLabels,col:colourOfAnomaly,base:-0.15,left:739,top:608,bar:1222.5,barTop:610.5,low:-1.1,high:1.2,ticks:anomalyLabels,step:0.1}
];
const FONT='"Liberation Sans",Arial,sans-serif';
const grid=[],xAxis=[],yAxis=[],series=[],graphic=[];
function polySeries(x,y,polys,colours,smooth){
 series.push({type:'custom',xAxisIndex:x,yAxisIndex:y,coordinateSystem:'cartesian2d',clip:true,z:2,silent:true,
  data:polys.map((p,i)=>[i]),encode:{x:[],y:[]},
  renderItem:(params,api)=>{const i=api.value(0);
   return {type:'polygon',shape:{points:polys[i].map(p=>api.coord([p[0],st(p[1])])),smooth:smooth},style:{fill:colours[i],stroke:colours[i],lineWidth:0.3}};}
 });
}
panels.forEach((P,k)=>{
 const g=grid.length;
 grid.push({left:P.left,top:P.top,width:449,height:438.5,containLabel:false,show:false});
 const xi=xAxis.length, yi=yAxis.length;
 const xBase={type:'value',gridIndex:g,min:-40,max:65,splitLine:{show:false},z:10};
 const lineStyle={color:'#000',width:2.6};
 xAxis.push({...xBase,position:'bottom',axisLine:{show:true,onZero:false,lineStyle},axisTick:{show:true,inside:false,length:12,lineStyle:{color:'#000',width:1.6},customValues:latMajor},
   axisLabel:{show:true,customValues:latMajor,margin:22,fontSize:14.5,fontFamily:FONT,color:'#000',formatter:v=>latNames[latMajor.indexOf(v)]||''}});
 xAxis.push({...xBase,position:'bottom',axisLine:{show:false,onZero:false},axisTick:{show:true,length:6,lineStyle:{color:'#000',width:1.2},customValues:latMinor},axisLabel:{show:false}});
 xAxis.push({...xBase,position:'top',axisLine:{show:true,onZero:false,lineStyle},axisTick:{show:true,length:12,lineStyle:{color:'#000',width:1.6},customValues:latMajor},axisLabel:{show:false}});
 xAxis.push({...xBase,position:'top',axisLine:{show:false,onZero:false},axisTick:{show:true,length:6,lineStyle:{color:'#000',width:1.2},customValues:latMinor},axisLabel:{show:false}});
 const yBase={type:'value',gridIndex:g,min:2,max:440.5,inverse:true,splitLine:{show:false},z:10};
 const yMaj=depthMajor.map(st), yMin=depthMinor.map(st);
 yAxis.push({...yBase,position:'left',axisLine:{show:true,onZero:false,lineStyle},axisTick:{show:true,length:11,lineStyle:{color:'#000',width:1.6},customValues:yMaj},
   axisLabel:{show:true,customValues:yMaj,margin:13,fontSize:13,padding:[2,0,0,0],fontFamily:FONT,color:'#000',formatter:v=>String(depthMajor[yMaj.findIndex(m=>Math.abs(m-v)<0.01)])}});
 yAxis.push({...yBase,position:'left',axisLine:{show:false,onZero:false},axisTick:{show:true,length:5.5,lineStyle:{color:'#000',width:1.2},customValues:yMin},axisLabel:{show:false}});
 yAxis.push({...yBase,position:'right',axisLine:{show:true,onZero:false,lineStyle},axisTick:{show:true,length:11,lineStyle:{color:'#000',width:1.6},customValues:yMaj},axisLabel:{show:false}});
 yAxis.push({...yBase,position:'right',axisLine:{show:false,onZero:false},axisTick:{show:true,length:5.5,lineStyle:{color:'#000',width:1.2},customValues:yMin},axisLabel:{show:false}});
 // empty series so every auxiliary axis is active
 [1,2,3].forEach(n=>series.push({type:'line',xAxisIndex:xi+n,yAxisIndex:yi+n,data:[],silent:true}));
 // shading
 polySeries(xi,yi,[[[-45,0],[70,0],[70,5600],[-45,5600]]],[P.col(P.base)],0);
 polySeries(xi,yi,P.bands,P.levels.map(P.col),0.25);
 polySeries(xi,yi,[landEast,landBottomA,landBottomB],['#fff','#fff','#fff'],0);
 // seam across the panel at the axis break
 series.push({type:'line',xAxisIndex:xi,yAxisIndex:yi,silent:true,z:3,symbol:'none',lineStyle:{color:'rgba(255,255,255,0.35)',width:1},data:[[-40,st(1020)],[60,st(1020)]]});
 // contours
 const addLines=(list,width,type)=>list.forEach(l=>series.push({type:'line',xAxisIndex:xi,yAxisIndex:yi,silent:true,z:4,symbol:'none',showSymbol:false,smooth:0.3,
   lineStyle:{color:'#000',width:width,type:type||'solid'},data:l.map(p=>[p[0],st(p[1])])}));
 addLines(P.thin,1.25);
 addLines(P.dash,1.1,[7,4]);
 addLines(P.thick,2.7);
 // contour labels
 series.push({type:'scatter',xAxisIndex:xi,yAxisIndex:yi,silent:true,z:6,symbolSize:0,
   data:P.labels.map(l=>({value:[l[1],st(l[2])],label:{show:true,position:'inside',formatter:l[0],rotate:l[3],backgroundColor:'#fff',color:'#000',fontSize:12,fontFamily:FONT,padding:[2,3,1,3]}}))});
 // colour bar
 const cg=grid.length;
 grid.push({left:P.bar,top:P.barTop,width:27,height:429.5,show:false});
 const cx=xAxis.length, cy=yAxis.length;
 xAxis.push({type:'value',gridIndex:cg,min:0,max:1,show:false});
 yAxis.push({type:'value',gridIndex:cg,min:P.low,max:P.high,position:'right',splitLine:{show:false},axisLine:{show:false},axisTick:{show:false},
   axisLabel:{show:true,customValues:P.ticks,align:'center',margin:26,fontSize:19,padding:[2,0,0,0],fontFamily:FONT,color:'#000',formatter:v=>String(+v.toFixed(1))}});
 const boxes=[];for(let v=P.high;v>P.low+1e-6;v-=P.step)boxes.push(+v.toFixed(2));
 series.push({type:'custom',xAxisIndex:cx,yAxisIndex:cy,coordinateSystem:'cartesian2d',silent:true,z:2,
   data:boxes.map(v=>[v]),encode:{x:[],y:[]},
   renderItem:(params,api)=>{const v=api.value(0);const a=api.coord([0,v]),b=api.coord([1,v-P.step]);
     return {type:'rect',shape:{x:a[0],y:a[1],width:b[0]-a[0],height:b[1]-a[1]},style:{fill:P.col(v-P.step/2),stroke:'#000',lineWidth:1}};}});
 // texts
 const l=P.left,t=P.top;
 const tx=(text,x,y,size,align,rot)=>graphic.push({type:'text',x,y,rotation:rot||0,z:20,style:{text,fontSize:size,fontFamily:FONT,fill:'#000',textAlign:align,textVerticalAlign:'middle'}});
 tx(leftText,l,t-21.5,19,'left');
 tx(rightText,l+448,t-21.5,19,'right');
 tx(panelLetters[k],l+417,t+397,54,'center');
 tx(depthName,l-71,t+240,14.5,'center',Math.PI/2);
});
graphic.push({type:'text',x:324.5,y:26,z:20,style:{text:panelTitle[0],fontSize:35.6,fontFamily:FONT,fill:'#000',textAlign:'center',textVerticalAlign:'middle'}});
graphic.push({type:'text',x:973,y:26,z:20,style:{text:panelTitle[1],fontSize:35.6,fontFamily:FONT,fill:'#000',textAlign:'center',textVerticalAlign:'middle'}});

const chart=echarts.init(document.getElementById('c'),null,{renderer:'canvas'});
chart.setOption({animation:false,backgroundColor:'#fff',tooltip:{show:false},grid,xAxis,yAxis,series,graphic});
</script></body></html>
